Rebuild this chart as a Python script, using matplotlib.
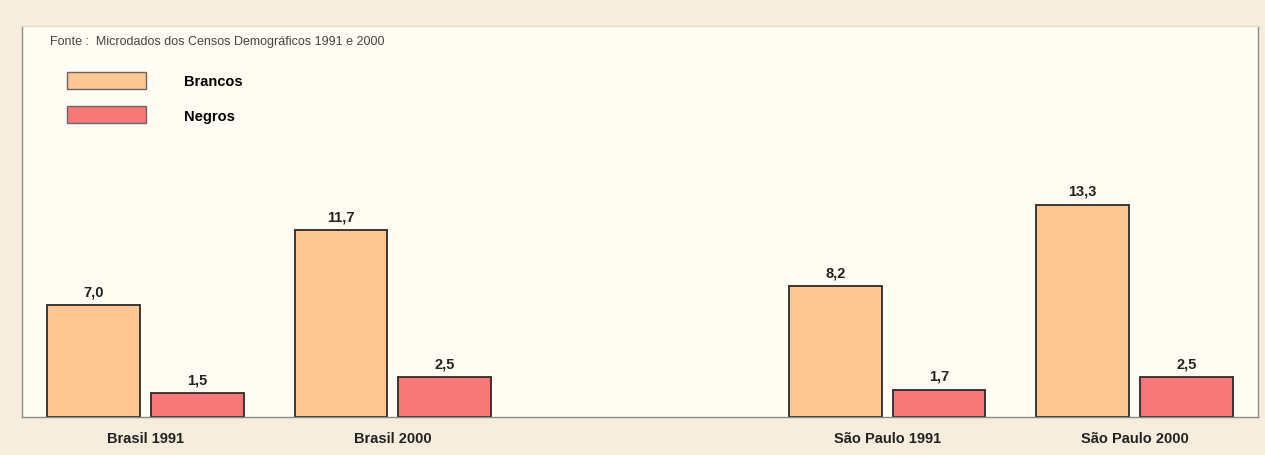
import numpy as np
import matplotlib.pyplot as plt
from matplotlib.patches import Patch

plt.rcParams['font.family'] = ['Liberation Sans', 'DejaVu Sans']

categorias = ['Brasil 1991', 'Brasil 2000', 'São Paulo 1991', 'São Paulo 2000']
posicoes = [0, 1, 3, 4]
brancos = [7.0, 11.7, 8.2, 13.3]
negros = [1.5, 2.5, 1.7, 2.5]

cor_brancos = '#fdc793'
cor_negros = '#f87878'
fundo_fora = '#f7eddc'
fundo_dentro = '#fffdf3'

fig = plt.figure(figsize=(12.65, 4.56), dpi=100, facecolor=fundo_fora)
ax = fig.add_axes([22 / 1265, 38 / 456, 1236 / 1265, 391 / 456], facecolor=fundo_dentro)

x = np.array(posicoes, dtype=float)
w = 0.375
gap = 0.045
b1 = ax.bar(x - gap / 2 - w / 2, brancos, w, color=cor_brancos, edgecolor='#2a2a2a', linewidth=1.3)
b2 = ax.bar(x + gap / 2 + w / 2, negros, w, color=cor_negros, edgecolor='#2a2a2a', linewidth=1.3)

fmt = lambda v: f'{v:.1f}'.replace('.', ',')
for bars, vals in ((b1, brancos), (b2, negros)):
    ax.bar_label(bars, labels=[fmt(v) for v in vals], padding=5,
                 fontsize=10.5, fontweight='bold', color='#222222')

ax.set_xlim(-0.5, 4.5)
ax.set_ylim(0, 24.5)
ax.set_yticks([])
ax.set_xticks(x)
ax.set_xticklabels(categorias, fontsize=10.5, fontweight='bold', color='#222222')
ax.tick_params(axis='x', length=0, pad=10)
for s in ax.spines.values():
    s.set_color('#8a8a8a')
    s.set_linewidth(1.0)
ax.spines['top'].set_color('#e6ddcc')

ax.text(50 / 1265, 1 - 42 / 456, 'Fonte :  Microdados dos Censos Demográficos 1991 e 2000',
        transform=fig.transFigure, fontsize=9, color='#444444', va='center', ha='left')

handles = [Patch(facecolor=cor_brancos, edgecolor='#666666', linewidth=1.0),
           Patch(facecolor=cor_negros, edgecolor='#666666', linewidth=1.0)]
fig.legend(handles, ['Brancos', 'Negros'], loc='upper left',
           bbox_to_anchor=(67 / 1265, 1 - 73 / 456), frameon=False,
           borderpad=0, borderaxespad=0, handlelength=5.4, handleheight=1.4,
           handletextpad=2.6, labelspacing=1.2,
           prop={'size': 10.5, 'weight': 'bold'})

fig.savefig('out.png', dpi=100, facecolor=fundo_fora)
